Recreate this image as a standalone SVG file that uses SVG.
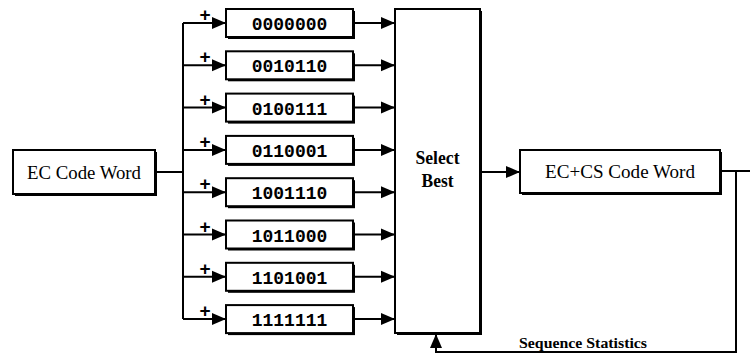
<svg xmlns="http://www.w3.org/2000/svg" width="750" height="361" viewBox="0 0 750 361">
<defs>
<marker id="ah" markerUnits="userSpaceOnUse" markerWidth="15" markerHeight="13" refX="14" refY="6.5" orient="auto">
<path d="M0,0.5 L14,6.5 L0,12.5 Z" fill="#000"/>
</marker>
<style>
.box{fill:#fff;stroke:#000;stroke-width:2}
.sh{fill:#000}
.ln{fill:none;stroke:#000;stroke-width:2}
.lbl{font-family:"Liberation Serif",serif;font-size:18px;fill:#000;text-anchor:middle}
.code{font-family:"Liberation Mono",monospace;font-weight:bold;font-size:18px;fill:#000;text-anchor:middle}
.plus{font-family:"Liberation Sans",sans-serif;font-weight:bold;font-size:19px;fill:#000;text-anchor:middle}
</style>
</defs>
<rect width="750" height="361" fill="#fff"/>
<g id="connectors">
<path class="ln" d="M155,172 H183"/>
<path class="ln" d="M183,23 V319"/>
<path class="ln" d="M183,23 H226" marker-end="url(#ah)"/>
<path class="ln" d="M183,65.3 H226" marker-end="url(#ah)"/>
<path class="ln" d="M183,107.6 H226" marker-end="url(#ah)"/>
<path class="ln" d="M183,149.9 H226" marker-end="url(#ah)"/>
<path class="ln" d="M183,192.2 H226" marker-end="url(#ah)"/>
<path class="ln" d="M183,234.5 H226" marker-end="url(#ah)"/>
<path class="ln" d="M183,276.8 H226" marker-end="url(#ah)"/>
<path class="ln" d="M183,319.1 H226" marker-end="url(#ah)"/>
<path class="ln" d="M353,23 H395" marker-end="url(#ah)"/>
<path class="ln" d="M353,65.3 H395" marker-end="url(#ah)"/>
<path class="ln" d="M353,107.6 H395" marker-end="url(#ah)"/>
<path class="ln" d="M353,149.9 H395" marker-end="url(#ah)"/>
<path class="ln" d="M353,192.2 H395" marker-end="url(#ah)"/>
<path class="ln" d="M353,234.5 H395" marker-end="url(#ah)"/>
<path class="ln" d="M353,276.8 H395" marker-end="url(#ah)"/>
<path class="ln" d="M353,319.1 H395" marker-end="url(#ah)"/>
<path class="ln" d="M481,172 H520" marker-end="url(#ah)"/>
<path class="ln" d="M721,171 H750 M736,171 V352 H436 V334" marker-end="url(#ah)"/>
<text class="plus" x="205" y="21">+</text>
<text class="plus" x="205" y="63.3">+</text>
<text class="plus" x="205" y="105.6">+</text>
<text class="plus" x="205" y="147.9">+</text>
<text class="plus" x="205" y="190.2">+</text>
<text class="plus" x="205" y="232.5">+</text>
<text class="plus" x="205" y="274.8">+</text>
<text class="plus" x="205" y="317.1">+</text>
<text x="583" y="348" font-family="'Liberation Serif',serif" font-weight="bold" font-size="15" text-anchor="middle" textLength="128" lengthAdjust="spacingAndGlyphs">Sequence Statistics</text>
</g>
<g id="ec">
<rect class="sh" x="15" y="152" width="142" height="44"/>
<rect class="box" x="13" y="150" width="142" height="44"/>
<text class="lbl" x="84" y="179" textLength="114" lengthAdjust="spacingAndGlyphs">EC Code Word</text>
</g>
<g id="c0"><rect class="sh" x="228" y="11" width="127" height="28"/><rect class="box" x="226" y="9" width="127" height="28"/><text class="code" x="289.5" y="30">0000000</text></g>
<g id="c1"><rect class="sh" x="228" y="53.3" width="127" height="28"/><rect class="box" x="226" y="51.3" width="127" height="28"/><text class="code" x="289.5" y="72.3">0010110</text></g>
<g id="c2"><rect class="sh" x="228" y="95.6" width="127" height="28"/><rect class="box" x="226" y="93.6" width="127" height="28"/><text class="code" x="289.5" y="114.6">0100111</text></g>
<g id="c3"><rect class="sh" x="228" y="137.9" width="127" height="28"/><rect class="box" x="226" y="135.9" width="127" height="28"/><text class="code" x="289.5" y="156.9">0110001</text></g>
<g id="c4"><rect class="sh" x="228" y="180.2" width="127" height="28"/><rect class="box" x="226" y="178.2" width="127" height="28"/><text class="code" x="289.5" y="199.2">1001110</text></g>
<g id="c5"><rect class="sh" x="228" y="222.5" width="127" height="28"/><rect class="box" x="226" y="220.5" width="127" height="28"/><text class="code" x="289.5" y="241.5">1011000</text></g>
<g id="c6"><rect class="sh" x="228" y="264.8" width="127" height="28"/><rect class="box" x="226" y="262.8" width="127" height="28"/><text class="code" x="289.5" y="283.8">1101001</text></g>
<g id="c7"><rect class="sh" x="228" y="307.1" width="127" height="28"/><rect class="box" x="226" y="305.1" width="127" height="28"/><text class="code" x="289.5" y="326.1">1111111</text></g>
<g id="select">
<rect class="sh" x="397" y="11" width="85" height="324"/>
<rect class="box" x="395" y="9" width="85" height="324"/>
<text class="lbl" x="437.5" y="164" font-size="17" font-weight="bold" textLength="44" lengthAdjust="spacingAndGlyphs">Select</text>
<text class="lbl" x="437.5" y="187" font-size="17" font-weight="bold" textLength="32" lengthAdjust="spacingAndGlyphs">Best</text>
</g>
<g id="eccs">
<rect class="sh" x="522" y="152" width="200" height="43"/>
<rect class="box" x="520" y="150" width="200" height="43"/>
<text class="lbl" x="620" y="178" textLength="150" lengthAdjust="spacingAndGlyphs">EC+CS Code Word</text>
</g>
</svg>
